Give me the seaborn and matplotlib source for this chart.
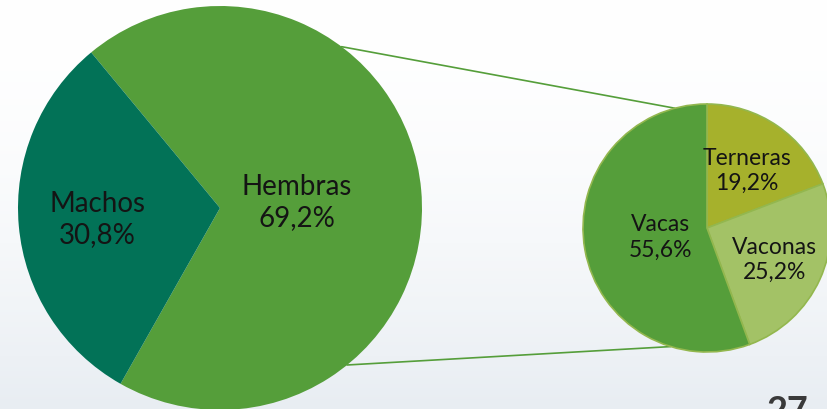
import numpy as np
import matplotlib
matplotlib.use("Agg")
import matplotlib.pyplot as plt
import seaborn as sns

# Population split by sex, and breakdown of the female group
main_labels = ["Hembras", "Machos"]
main_values = [69.2, 30.8]
sub_labels = ["Terneras", "Vaconas", "Vacas"]
sub_values = [19.2, 25.2, 55.6]

main_colors = ["#559E3A", "#027257"]
sub_colors = ["#A6B12C", "#A3C266", "#559E3A"]

sns.set_theme(style="white")
plt.rcParams["font.family"] = ["Lato", "DejaVu Sans"]

W, H = 827, 410
fig = plt.figure(figsize=(W / 100, H / 100), dpi=100)

# soft background wash
bg = fig.add_axes([0, 0, 1, 1])
grad = np.linspace(0, 1, 256)[:, None] ** 1.8
top = np.array([1.0, 1.0, 1.0])
bot = np.array([0.91, 0.93, 0.95])
img = top[None, None, :] * (1 - grad[..., None]) + bot[None, None, :] * grad[..., None]
bg.imshow(np.repeat(img, 4, axis=1), aspect="auto", extent=[0, W, 0, H], origin="upper")
bg.set_axis_off()

ax = fig.add_axes([0, 0, 1, 1])
ax.patch.set_alpha(0)

# pixel-like coordinates, y pointing up
big_c, big_r = (220, H - 209), 202
small_c, small_r = (707, H - 229), 124

big_w, _ = ax.pie(main_values, colors=main_colors, center=big_c, radius=big_r,
                  startangle=-119.5, counterclock=True,
                  wedgeprops=dict(linewidth=0))
small_w, _ = ax.pie(sub_values, colors=sub_colors, center=small_c, radius=small_r,
                    startangle=90, counterclock=False,
                    wedgeprops=dict(linewidth=1.2, edgecolor="#93B74E"))

ax.set_xlim(0, W)
ax.set_ylim(0, H)
ax.set_aspect("equal")
ax.set_axis_off()


def fmt(v):
    return f"{v:.1f}%".replace(".", ",")


def place(wedges, labels, values, center, radius, dists, size):
    for w, lab, val, d in zip(wedges, labels, values, dists):
        ang = np.deg2rad((w.theta1 + w.theta2) / 2)
        x = center[0] + d * radius * np.cos(ang)
        y = center[1] + d * radius * np.sin(ang)
        ax.text(x, y, f"{lab}\n{fmt(val)}", ha="center", va="center",
                fontsize=size, fontweight="normal", color="#141414",
                linespacing=1.25)


place(big_w, main_labels, main_values, big_c, big_r, [0.38, 0.61], 20)
place(small_w, sub_labels, sub_values, small_c, small_r, [0.57, 0.6, 0.38], 16.5)

# connector lines between the two pies
for a_big, a_small in [(53, 105), (-51, -107)]:
    x0 = big_c[0] + big_r * np.cos(np.deg2rad(a_big))
    y0 = big_c[1] + big_r * np.sin(np.deg2rad(a_big))
    x1 = small_c[0] + small_r * np.cos(np.deg2rad(a_small))
    y1 = small_c[1] + small_r * np.sin(np.deg2rad(a_small))
    ax.plot([x0, x1], [y0, y1], color="#559E3A", lw=1.2, zorder=0.5)

fig.text(767 / W, 1 - 395 / H, "27", ha="left", va="top", fontsize=26,
         fontweight="bold", color="#3A3A3A")

fig.savefig("out.png", dpi=100)
